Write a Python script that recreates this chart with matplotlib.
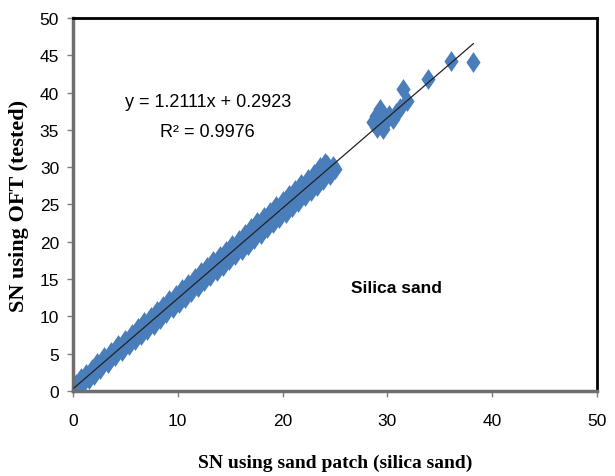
import matplotlib
matplotlib.use("Agg")
import matplotlib.pyplot as plt

# Data
x_sand = [0.1, 0.3, 0.5, 0.8, 1.0, 1.2, 1.5, 1.8, 2.0, 2.3, 2.6, 3.0, 3.3, 3.6, 4.0, 4.3, 4.7,
          5.0, 5.3, 5.6, 5.9, 6.2, 6.5, 6.8, 7.1, 7.4, 7.7, 8.0, 8.3, 8.6, 8.9, 9.2, 9.5,
          9.8, 10.1, 10.4, 10.7, 11.0, 11.3, 11.6, 11.9, 12.2, 12.5, 12.8, 13.1, 13.4, 13.7,
          14.0, 14.3, 14.6, 14.9, 15.2, 15.5, 15.8, 16.1, 16.4, 16.7, 17.0, 17.3, 17.6, 17.9,
          18.2, 18.5, 18.8, 19.1, 19.4, 19.7, 20.0, 20.3, 20.6, 20.9, 21.2, 21.5, 21.8, 22.1,
          22.4, 22.7, 23.0, 23.3, 23.5, 23.6, 23.9, 24.0, 24.2, 24.5, 24.8, 25.0,
          28.6, 28.9, 29.0, 29.3, 29.6, 29.9, 30.2, 30.5, 30.8, 31.2, 31.5, 31.9,
          33.9, 36.1, 38.2]
y_oft = [0.3, 1.0, 0.5, 1.7, 1.1, 2.3, 1.6, 2.9, 2.2, 3.7, 2.9, 4.5, 3.7, 5.2, 4.7, 6.1, 5.4,
         6.9, 6.1, 7.7, 6.9, 8.4, 7.5, 9.2, 8.2, 9.9, 8.9, 10.7, 9.7, 11.4, 10.4, 12.2, 11.1,
         12.9, 11.8, 13.7, 12.5, 14.4, 13.3, 15.2, 13.9, 15.9, 14.7, 16.6, 15.4, 17.4, 16.1,
         18.1, 16.8, 18.8, 17.5, 19.6, 18.2, 20.3, 18.9, 21.1, 19.6, 21.8, 20.4, 22.6, 21.1,
         23.3, 21.8, 24.0, 22.5, 24.8, 23.2, 25.5, 23.9, 26.3, 24.6, 27.0, 25.4, 27.7, 26.1,
         28.4, 26.8, 29.1, 27.5, 28.0, 30.0, 28.3, 30.5, 30.3, 29.0, 30.2, 29.8,
         36.0, 36.8, 35.3, 37.8, 35.1, 36.2, 37.0, 36.5, 37.3, 38.0, 40.5, 38.9,
         41.8, 44.2, 44.1]
slope = 1.2111
intercept = 0.2923
r_squared = 0.9976
x_ticks = [0, 10, 20, 30, 40, 50]
y_ticks = [0, 5, 10, 15, 20, 25, 30, 35, 40, 45, 50]

sans = ['Liberation Sans', 'DejaVu Sans']
serif = ['Liberation Serif', 'DejaVu Serif']

fig = plt.figure(figsize=(6.15, 4.77), dpi=100)
ax = fig.add_axes([0.1187, 0.1782, 0.852, 0.782])

diamond = [(-0.68, 0), (0, 1), (0.68, 0), (0, -1), (-0.68, 0)]
ax.plot(x_sand, y_oft, linestyle='none', marker=diamond, markersize=15,
        color='#4a7ebb', markeredgewidth=0, zorder=2)

x0, x1 = min(x_sand), max(x_sand)
ax.plot([x0, x1], [slope * x0 + intercept, slope * x1 + intercept],
        color='#222222', linewidth=0.9, zorder=3)

ax.set_xlim(0, 50)
ax.set_ylim(0, 50)
ax.set_xticks(x_ticks)
ax.set_yticks(y_ticks)
ax.tick_params(axis='both', direction='out', length=4, width=1, color='#808080',
               labelsize=12.5)
for lab in ax.get_xticklabels() + ax.get_yticklabels():
    lab.set_family(sans)
ax.tick_params(axis='x', pad=12)
ax.tick_params(axis='y', pad=6)

for s in ['left', 'bottom']:
    ax.spines[s].set_color('#6e6e6e')
    ax.spines[s].set_linewidth(2.5)
for s in ['top', 'right']:
    ax.spines[s].set_color('black')
    ax.spines[s].set_linewidth(2)

ax.set_xlabel('SN using sand patch (silica sand)', family=serif, fontweight='bold',
              fontsize=14, labelpad=18)
ax.set_ylabel('SN using OFT (tested)', family=serif, fontweight='bold',
              fontsize=16, labelpad=8)

ax.text(12.9, 38.8, f'y = {slope}x + {intercept}', family=sans, fontsize=13,
        ha='center', va='center')
ax.text(12.8, 34.8, f'R² = {r_squared}', family=sans, fontsize=13,
        ha='center', va='center')
ax.text(30.9, 13.9, 'Silica sand', family=sans, fontsize=12.5, fontweight='bold',
        ha='center', va='center')

fig.savefig('out.png', dpi=100)
